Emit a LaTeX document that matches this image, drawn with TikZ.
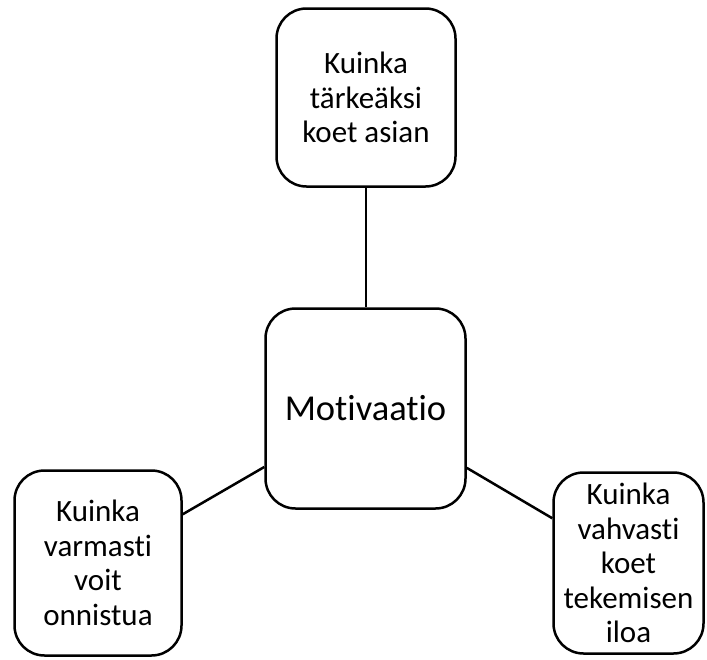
\documentclass[tikz,border=0pt]{standalone}
\usepackage{fontspec}
\setmainfont{Carlito}[Ligatures=NoCommon]
\begin{document}
\begin{tikzpicture}[x=1pt,y=-1pt,
  box/.style={draw=black, line width=2.5pt, rounded corners=30pt, fill=white,
    align=center, inner sep=0pt, font=\fontsize{31}{34.5}\selectfont},
  link/.style={draw=black, line width=2.5pt}]
\useasboundingbox (0,0) rectangle (707,659);
\node[box, minimum width=179pt, minimum height=178pt] (t) at (366,97.5) {Kuinka\\tärkeäksi\\koet asian};
\node[box, minimum width=200pt, minimum height=200pt, font=\fontsize{36.5}{40}\selectfont] (c) at (365.5,408.5) {Motivaatio};
\node[box, minimum width=167pt, minimum height=185pt] (l) at (98,563) {Kuinka\\varmasti\\voit\\onnistua};
\node[box, minimum width=150pt, minimum height=181pt] (r) at (628.5,563) {Kuinka\\vahvasti\\koet\\tekemisen\\iloa};
\draw[link] (t.south) -- (t.south |- c.north);
\draw[link] (c) -- (l);
\draw[link] (c) -- (r);
\end{tikzpicture}
\end{document}
